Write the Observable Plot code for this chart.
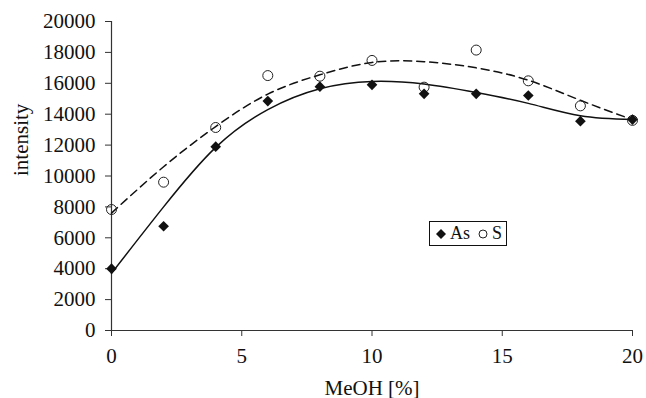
<!DOCTYPE html>
<html>
<head>
<meta charset="utf-8">
<script src="https://cdn.jsdelivr.net/npm/d3@7"></script>
<script src="https://cdn.jsdelivr.net/npm/@observablehq/plot@0.6"></script>
<style>
  html, body { margin: 0; padding: 0; background: #fff; }
  #wrap { position: relative; width: 646px; height: 398px; font-family: "Liberation Serif", "Times New Roman", serif; }
  #wrap svg text { font-family: "Liberation Serif", "Times New Roman", serif; }
  #legend { position: absolute; left: 429px; top: 221px; width: 76px; height: 23px; border: 1px solid #111;
    background: #fff; font-size: 18px; color: #111; display: flex; align-items: center; box-sizing: content-box; }
  #legend span { display: inline-block; }
</style>
</head>
<body>
<div id="wrap"></div>
<script>
// MeOH percentage (x) values
const xValues = [0, 2, 4, 6, 8, 10, 12, 14, 16, 18, 20];
// measured intensities
const asValues = [4000, 6750, 11900, 14850, 15780, 15900, 15320, 15320, 15210, 13550, 13650];
const sValues  = [7830, 9600, 13140, 16500, 16460, 17480, 15750, 18150, 16160, 14540, 13600];
// trend-line values at the same x positions
const asTrend = [3700, 8000, 11850, 14300, 15650, 16120, 15950, 15400, 14700, 13900, 13650];
const sTrend  = [7600, 10600, 13200, 15300, 16550, 17350, 17400, 17000, 16200, 14900, 13650];
// axis ticks
const xTicks = [0, 5, 10, 15, 20];
const yTicks = [0, 2000, 4000, 6000, 8000, 10000, 12000, 14000, 16000, 18000, 20000];
const xLabel = "MeOH [%]";
const yLabel = "intensity";
const seriesNames = ["As", "S"];

const asPts = xValues.map((x, i) => ({x, y: asValues[i]}));
const sPts = xValues.map((x, i) => ({x, y: sValues[i]}));
const asLine = xValues.map((x, i) => ({x, y: asTrend[i]}));
const sLine = xValues.map((x, i) => ({x, y: sTrend[i]}));

const chart = Plot.plot({
  width: 646,
  height: 398,
  marginLeft: 111,
  marginRight: 14,
  marginTop: 21,
  marginBottom: 68,
  x: {domain: [0, 20]},
  y: {domain: [0, 20000]},
  style: {fontFamily: "'Liberation Serif', 'Times New Roman', serif", fontSize: "21px", color: "#111", background: "#fff", overflow: "visible"},
  marks: [
    Plot.axisX({ticks: xTicks, tickSize: 6, tickPadding: 12, label: null, stroke: "#333", fontSize: 21}),
    Plot.axisY({ticks: yTicks, tickSize: 6, tickPadding: 10, label: null, tickFormat: d3.format("d"), stroke: "#333", fontSize: 21}),
    Plot.ruleY([0], {stroke: "#333", strokeWidth: 1.2}),
    Plot.ruleX([0], {stroke: "#333", strokeWidth: 1.2}),
    Plot.text([xLabel], {frameAnchor: "bottom", dy: 64, fontSize: 21, fill: "#111"}),
    Plot.text([yLabel], {frameAnchor: "left", dx: -90, rotate: -90, fontSize: 21, fill: "#111"}),
    Plot.line(sLine, {x: "x", y: "y", curve: "natural", stroke: "#111", strokeWidth: 1.5, strokeDasharray: "8,5"}),
    Plot.line(asLine, {x: "x", y: "y", curve: "natural", stroke: "#111", strokeWidth: 1.5}),
    Plot.dot(sPts, {x: "x", y: "y", r: 5, symbol: "circle", stroke: "#222", strokeWidth: 1, fill: "none"}),
    Plot.dot(asPts, {x: "x", y: "y", r: 4.8, symbol: "diamond2", fill: "#111", stroke: "none"})
  ]
});

const wrap = document.getElementById("wrap");
wrap.appendChild(chart);

const legend = document.createElement("div");
legend.id = "legend";
legend.innerHTML =
  '<svg width="14" height="14" style="margin-left:4px"><path d="M7,2 L12,7 L7,12 L2,7 Z" fill="#111"/></svg>' +
  '<span style="margin-left:2px">' + seriesNames[0] + '</span>' +
  '<svg width="14" height="14" style="margin-left:6px"><circle cx="7" cy="7" r="4" fill="none" stroke="#222" stroke-width="1"/></svg>' +
  '<span style="margin-left:2px">' + seriesNames[1] + '</span>';
wrap.appendChild(legend);
</script>
</body>
</html>
